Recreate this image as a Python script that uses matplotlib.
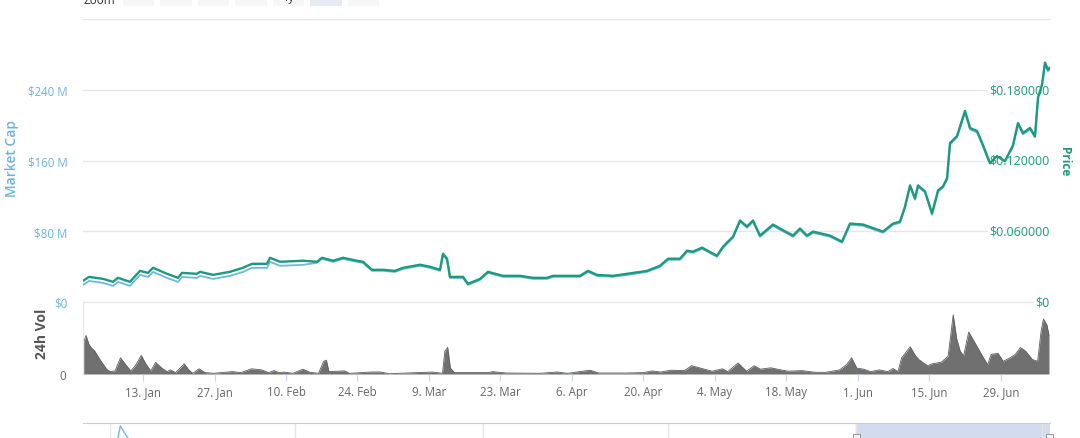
import matplotlib
matplotlib.use("Agg")
import matplotlib.pyplot as plt
from matplotlib.patches import Rectangle
from matplotlib.ticker import FuncFormatter
import matplotlib.transforms as mtransforms
import pandas as pd

plt.rcParams['font.family'] = ['Open Sans', 'DejaVu Sans']

start = pd.Timestamp("2020-01-01")

# price / market cap samples, days after 1 Jan 2020
price_days = [0.25, 1.43, 4.17, 6.13, 7.10, 9.45, 11.41, 12.98, 13.96, 16.70, 18.85, 19.64,
              22.57, 23.16, 25.71, 29.04, 31.58, 33.34, 36.28, 36.87, 38.83, 43.33, 46.07,
              47.05, 49.20, 51.16, 53.90, 55.08, 56.84, 59.00, 61.34, 62.91, 66.24, 68.20,
              70.16, 70.74, 71.53, 72.11, 74.66, 75.64, 77.99, 79.55, 82.49, 85.82, 88.37,
              91.11, 92.28, 97.57, 99.14, 100.90, 104.03, 106.77, 110.69, 113.23, 114.80,
              117.15, 118.52, 119.69, 121.46, 124.39, 125.57, 127.53, 128.90, 130.27, 131.45,
              132.82, 135.36, 136.73, 139.28, 140.65, 142.02, 143.20, 146.52, 148.87, 150.44,
              152.98, 156.90, 158.86, 160.23, 161.21, 162.19, 163.17, 163.76, 165.13, 166.50,
              167.68, 168.65, 169.44, 170.02, 171.39, 172.96, 173.94, 175.31, 176.48, 177.85,
              179.22, 180.79, 182.36, 183.33, 184.31, 185.68, 186.66, 187.25, 188.03, 188.62,
              189.21, 189.60]
price_usd = [0.0179, 0.0213, 0.0196, 0.0171, 0.0205, 0.0171, 0.0264, 0.0247, 0.0290, 0.0239,
             0.0205, 0.0247, 0.0239, 0.0256, 0.0230, 0.0256, 0.0290, 0.0324, 0.0324, 0.0375,
             0.0341, 0.0350, 0.0341, 0.0375, 0.0350, 0.0375, 0.0350, 0.0341, 0.0273, 0.0273,
             0.0264, 0.0290, 0.0316, 0.0299, 0.0273, 0.0409, 0.0367, 0.0213, 0.0213, 0.0154,
             0.0196, 0.0256, 0.0222, 0.0222, 0.0205, 0.0205, 0.0222, 0.0222, 0.0264, 0.0230,
             0.0222, 0.0239, 0.0264, 0.0307, 0.0367, 0.0367, 0.0435, 0.0427, 0.0461, 0.0392,
             0.0469, 0.0554, 0.0691, 0.0640, 0.0691, 0.0563, 0.0657, 0.0623, 0.0563, 0.0623,
             0.0563, 0.0597, 0.0563, 0.0512, 0.0665, 0.0657, 0.0597, 0.0665, 0.0682, 0.0810,
             0.0989, 0.0879, 0.0989, 0.0938, 0.0751, 0.0947, 0.0981, 0.1049, 0.1348, 0.1407,
             0.1621, 0.1476, 0.1450, 0.1331, 0.1177, 0.1237, 0.1194, 0.1331, 0.1518, 0.1433,
             0.1476, 0.1407, 0.1732, 0.1842, 0.2030, 0.1970, 0.1987]
mcap_musd = [19.3, 23.8, 21.6, 18.2, 22.7, 18.2, 30.6, 28.4, 34.0, 27.2, 22.7, 28.4, 27.2, 29.5,
             26.1, 29.5, 34.0, 38.6, 38.6, 45.4, 40.9, 42.0, 44.3, 48.8, 45.4, 48.8, 45.4, 44.3,
             35.2, 35.2, 34.0, 37.4, 40.9, 38.6, 35.2, 53.3, 47.7, 27.2, 27.2, 19.3, 25.0, 32.9,
             28.4, 28.4, 26.1, 26.1, 28.4, 28.4, 34.0, 29.5, 28.4, 30.6, 34.0, 39.7, 47.7, 47.7,
             56.7, 55.6, 60.1, 51.1, 61.3, 72.6, 90.8, 84.0, 90.8, 73.8, 86.2, 81.7, 73.8, 81.7,
             73.8, 78.3, 73.8, 67.0, 87.4, 86.2, 78.3, 87.4, 89.6, 106.7, 130.5, 115.7, 130.5,
             123.7, 98.7, 124.8, 129.4, 138.4, 178.2, 186.1, 214.5, 195.2, 191.8, 175.9, 155.5,
             163.4, 157.7, 175.9, 200.9, 189.5, 195.2, 186.1, 229.2, 244.0, 268.9, 261.0, 263.3]

# 24h volume samples ($M)
vol_days = [0.39, 0.84, 1.39, 1.82, 2.54, 3.56, 4.89, 5.54, 6.52, 7.59, 8.61, 9.63, 10.63, 11.65,
            12.65, 13.53, 14.47, 15.68, 16.70, 17.38, 18.38, 20.07, 20.95, 21.75, 22.97, 24.12,
            25.80, 29.51, 31.19, 33.23, 35.24, 36.59, 37.61, 38.61, 39.61, 41.31, 43.33, 44.70,
            46.36, 47.38, 47.91, 48.40, 51.44, 52.43, 56.82, 58.50, 60.17, 68.63, 70.64, 71.11,
            71.66, 72.19, 72.99, 79.75, 80.41, 83.08, 89.74, 93.07, 95.12, 99.53, 101.19, 106.58,
            109.91, 111.67, 113.33, 115.39, 118.05, 119.40, 121.42, 123.42, 125.47, 126.49,
            128.51, 130.19, 131.68, 132.89, 134.91, 136.93, 138.30, 140.98, 143.68, 145.70,
            148.40, 149.75, 150.75, 151.77, 153.12, 154.47, 156.16, 157.84, 158.86, 159.84,
            160.54, 162.23, 163.22, 163.91, 165.59, 166.61, 168.30, 169.65, 170.65, 171.33,
            172.00, 172.68, 173.68, 175.03, 176.38, 177.40, 178.07, 179.42, 180.44, 181.77,
            182.79, 183.80, 184.80, 186.15, 187.17, 187.84, 188.31, 189.00, 189.40]
vol_musd = [3.17, 3.86, 3.00, 2.65, 2.30, 1.45, 0.48, 0.24, 0.30, 1.62, 0.93, 0.30, 0.93, 1.86,
            0.93, 0.30, 1.17, 0.59, 0.24, 0.41, 0.14, 1.03, 0.41, 0.07, 0.52, 0.14, 0.07, 0.24,
            0.14, 0.52, 0.41, 0.14, 0.34, 0.14, 0.20, 0.07, 0.48, 0.17, 0.07, 1.27, 1.38, 0.24,
            0.31, 0.07, 0.20, 0.20, 0.03, 0.20, 0.07, 2.30, 2.65, 0.59, 0.14, 0.14, 0.24, 0.10,
            0.07, 0.20, 0.07, 0.38, 0.10, 0.10, 0.14, 0.31, 0.20, 0.38, 0.34, 0.83, 0.55, 0.28,
            0.52, 0.24, 1.10, 0.28, 0.83, 0.48, 0.62, 0.41, 0.28, 0.34, 0.17, 0.17, 0.41, 0.93,
            1.62, 0.59, 0.48, 0.24, 0.41, 0.24, 0.55, 0.24, 1.62, 2.72, 1.86, 1.45, 0.83, 1.03,
            1.17, 1.79, 5.92, 3.51, 2.30, 1.79, 4.20, 3.00, 1.79, 0.93, 1.96, 2.07, 1.27, 1.62,
            1.96, 2.65, 2.30, 1.45, 1.27, 4.20, 5.51, 4.89, 3.86]

# navigator (full history, market cap $M)
nav_days = [-756, -740, -722, -719.5, -716, -712, -695, -650, -500, 0, 189.6]
nav_musd = [300, 420, 600, 930, 780, 620, 480, 350, 150, 25, 260]

mcap_ticks = [0, 80, 160, 240, 320]
mcap_labels = ["$0", "$80 M", "$160 M", "$240 M", ""]
price_ticks = [0, 0.06, 0.12, 0.18]
buttons = ["1d", "7d", "1m", "3m", "1y", "YTD", "ALL"]
selected = "YTD"

def to_dates(days):
    return start + pd.to_timedelta(days, unit="D")

BLUE = "#6fb3d9"
BLUE_LINE = "#72b6de"
GREEN = "#1b9a7d"
GRID = "#e6e6e6"
GREY_TXT = "#666666"

W, H = 1080, 439
fig = plt.figure(figsize=(W / 100, H / 100), dpi=100)

def box(x0, ytop, x1, ybot):
    return [x0 / W, 1 - ybot / H, (x1 - x0) / W, (ybot - ytop) / H]

ax = fig.add_axes(box(83, 20, 1050, 303))
ax_vol = fig.add_axes(box(83, 303, 1050, 375))
ax_nav = fig.add_axes(box(83, 424, 1050, 464))

x0 = to_dates([price_days[0]])[0]
x1 = to_dates([price_days[-1]])[0]

# main panel
ax.set_xlim(x0, x1)
ax.set_ylim(0, 320)
ax.set_yticks(mcap_ticks)
ax.set_yticklabels(mcap_labels)
ax.tick_params(axis="y", length=0, pad=11, labelsize=8.3, labelcolor=BLUE)
ax.set_xticks([])
ax.grid(axis="y", color=GRID, lw=1)
ax.set_axisbelow(True)
for s in ax.spines.values():
    s.set_visible(False)
ax.plot(to_dates(price_days), mcap_musd, color=BLUE_LINE, lw=1.3, zorder=3)

ax2 = ax.twinx()
ax2.set_xlim(x0, x1)
ax2.set_ylim(0, 0.24)
ax2.set_yticks([])
for s in ax2.spines.values():
    s.set_visible(False)
tr = mtransforms.blended_transform_factory(ax2.transAxes, ax2.transData)
for v in price_ticks:
    lab = "$0" if v == 0 else f"${v:.6f}"
    ax2.text(1.0, v, lab, transform=tr, ha="right", va="center", fontsize=9,
             color=GREEN, zorder=1, clip_on=False,
             bbox=dict(facecolor="white", edgecolor="none", pad=1.5))
ax2.plot(to_dates(price_days), price_usd, color=GREEN, lw=1.7, zorder=3)

# volume panel
ax_vol.set_xlim(x0, x1)
ax_vol.set_ylim(0, 7.2)
vd = to_dates(vol_days)
ax_vol.fill_between(vd, 0, vol_musd, color="#707070", lw=0)
ax_vol.plot(vd, vol_musd, color="#5e5e5e", lw=0.6)
ax_vol.set_yticks([0])
ax_vol.set_yticklabels(["0"])
ax_vol.tick_params(axis="y", length=0, pad=12, labelsize=8.3, labelcolor=GREY_TXT)
tick_dates = pd.date_range("2020-01-13", periods=13, freq="14D")
ax_vol.set_xticks(tick_dates)
ax_vol.xaxis.set_major_formatter(FuncFormatter(
    lambda v, p: (lambda d: f"{d.day}. {d.strftime('%b')}")(matplotlib.dates.num2date(v))))
ax_vol.tick_params(axis="x", length=5, color="#ccd6eb", pad=3, labelsize=8.3,
                   labelcolor=GREY_TXT)
for k, s in ax_vol.spines.items():
    s.set_visible(k in ("top", "left"))
    s.set_color(GRID)

# navigator
nd = to_dates(nav_days)
ax_nav.set_xlim(nd[0], x1)
ax_nav.set_ylim(0, 1000)
ax_nav.plot(nd, nav_musd, color="#7cb5ec", lw=1)
ax_nav.fill_between(nd, 0, nav_musd, color="#7cb5ec", alpha=0.05, lw=0)
ax_nav.set_xticks(pd.to_datetime(["2018-01-01", "2018-07-01", "2019-01-01",
                                  "2019-07-01", "2020-01-01", "2020-07-01"]))
ax_nav.set_xticklabels([])
ax_nav.tick_params(length=0)
ax_nav.set_yticks([])
ax_nav.grid(axis="x", color=GRID, lw=1)
ax_nav.axvspan(start, x1, color="#d3dbee", zorder=0.5)
for k, s in ax_nav.spines.items():
    s.set_visible(k == "top")
    s.set_color("#cccccc")
for hx in (856, 1049):
    fig.patches.append(Rectangle(((hx - 3.5) / W, 0), 7 / W, 4 / H, transform=fig.transFigure,
                                 facecolor="#f2f2f2", edgecolor="#999999", lw=0.7))

# axis titles
fig.text(12 / W, 1 - 159 / H, "Market Cap", rotation=90, ha="center", va="center",
         fontsize=10, color=BLUE, fontweight="semibold")
fig.text(1064 / W, 1 - 162 / H, "Price", rotation=270, ha="center", va="center",
         fontsize=8.5, color=GREEN, fontweight="bold")
fig.text(42 / W, 1 - 334 / H, "24h Vol", rotation=90, ha="center", va="center",
         fontsize=10, color="#555555", fontweight="bold")

# range selector (cut off at the top, as in the screenshot)
fig.text(83 / W, 1 - 4 / H, "Zoom", fontsize=8.5, color="#333333", va="baseline")
bx = [(123, 154), (160, 192), (198, 229), (235, 267), (273, 304), (310, 342), (348, 379)]
for (a, b), name in zip(bx, buttons):
    fc = "#e6ebf5" if name == selected else "#f7f7f7"
    fig.patches.append(Rectangle((a / W, 1 - 7 / H), (b - a) / W, 20 / H,
                                 transform=fig.transFigure, facecolor=fc, edgecolor="none"))
    fig.text((a + b) / 2 / W, 1 - 0.5 / H, name, fontsize=8, color="#333333",
             ha="center", va="baseline")

fig.savefig("out.png", dpi=100)
